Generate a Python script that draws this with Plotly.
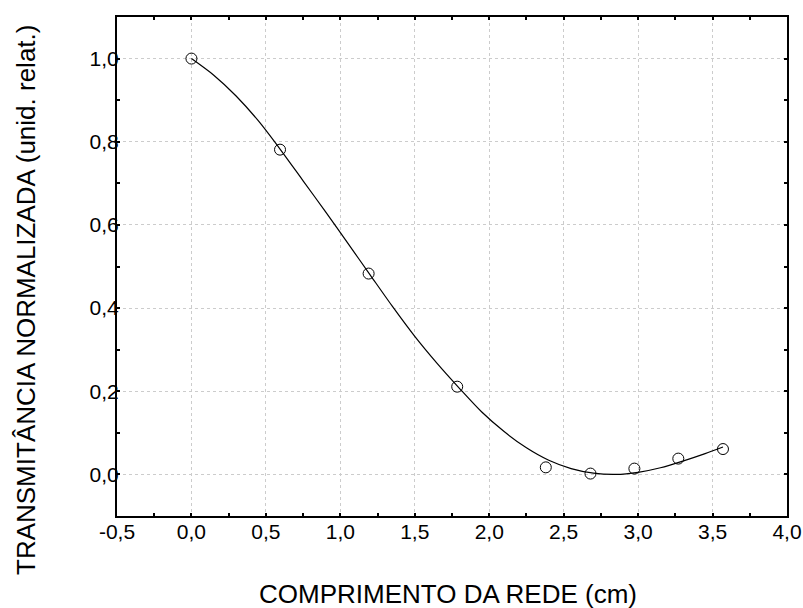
import plotly.graph_objects as go

# measured points
length_cm = [0.0, 0.595, 1.19, 1.785, 2.38, 2.68, 2.975, 3.27, 3.57]
transmittance = [1.0, 0.781, 0.483, 0.211, 0.017, 0.002, 0.014, 0.038, 0.061]

# fitted curve
fit_x = [0.0, 0.15, 0.3, 0.45, 0.6, 0.75, 0.9, 1.05, 1.2, 1.35, 1.5, 1.65, 1.8,
         1.95, 2.1, 2.25, 2.4, 2.55, 2.7, 2.85, 3.0, 3.15, 3.3, 3.45, 3.57]
fit_y = [1.0, 0.960, 0.910, 0.850, 0.780, 0.706, 0.632, 0.556, 0.480, 0.404, 0.332, 0.267, 0.207,
         0.150, 0.103, 0.064, 0.034, 0.014, 0.003, 0.000, 0.005, 0.016, 0.032, 0.050, 0.066]

x_ticks = [-0.5, 0.0, 0.5, 1.0, 1.5, 2.0, 2.5, 3.0, 3.5, 4.0]
x_tick_labels = ["-0,5", "0,0", "0,5", "1,0", "1,5", "2,0", "2,5", "3,0", "3,5", "4,0"]
y_ticks = [0.0, 0.2, 0.4, 0.6, 0.8, 1.0]
y_tick_labels = ["0,0", "0,2", "0,4", "0,6", "0,8", "1,0"]

FONT = "Liberation Sans, Arial, sans-serif"

fig = go.Figure()
fig.add_trace(go.Scatter(x=fit_x, y=fit_y, mode="lines",
                         line=dict(color="black", width=1.2, shape="spline", smoothing=0.8),
                         hoverinfo="skip", showlegend=False))
fig.add_trace(go.Scatter(x=length_cm, y=transmittance, mode="markers",
                         marker=dict(symbol="circle-open", size=11, color="black",
                                     line=dict(width=1, color="black")),
                         showlegend=False))

axis_common = dict(
    showline=True, linecolor="black", linewidth=2, mirror="allticks",
    ticks="inside", ticklen=3, tickwidth=2, tickcolor="black",
    showgrid=True, gridcolor="#cccccc", griddash="dot", gridwidth=1,
    zeroline=False, automargin=False,
    tickfont=dict(family=FONT, size=21, color="black"),
)

fig.update_xaxes(range=[-0.5, 4.0], tickvals=x_ticks, ticktext=x_tick_labels,
                 ticklabelstandoff=-4,
                 minor=dict(dtick=0.25, ticks="inside", ticklen=3, tickcolor="black", showgrid=False),
                 **axis_common)
fig.update_yaxes(range=[-0.1, 1.1], tickvals=y_ticks, ticktext=y_tick_labels,
                 ticklabelstandoff=-8,
                 minor=dict(dtick=0.1, ticks="inside", ticklen=3, tickcolor="black", showgrid=False),
                 **axis_common)

fig.update_layout(
    width=803, height=608,
    margin=dict(l=117, r=16, t=17, b=92),
    plot_bgcolor="white", paper_bgcolor="white",
    font=dict(family=FONT, color="black"),
    annotations=[
        dict(text="COMPRIMENTO DA REDE (cm)", xref="paper", yref="paper",
             x=0.494, y=-0.1563, xanchor="center", yanchor="middle",
             showarrow=False, font=dict(family=FONT, size=26, color="black")),
        dict(text="TRANSMITÂNCIA NORMALIZADA (unid. relat.)", xref="paper", yref="paper",
             x=-0.1358, y=0.4329, xanchor="center", yanchor="middle", textangle=-90,
             showarrow=False, font=dict(family=FONT, size=26, color="black")),
    ],
)

fig.write_html("out.html", config={"displayModeBar": False},
               post_script="document.body.style.margin='0';")
